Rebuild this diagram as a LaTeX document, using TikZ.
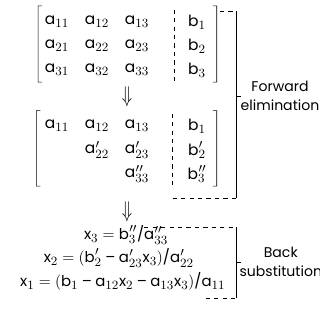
\documentclass[tikz,border=0pt]{standalone}
\usepackage{amsmath}
\usepackage{fontspec}
\setmainfont{Poppins}
\usepackage{mathastext}
\usetikzlibrary{arrows.meta, matrix, positioning, calc}

\begin{document}
\begin{tikzpicture}[
    font=\fontsize{11}{13}\selectfont,
    mat/.style={matrix of math nodes, column sep=0.1cm, row sep=0pt,
                nodes={minimum width=0.9cm, minimum height=0.6cm,
                       inner sep=0pt, anchor=center}},
    sep/.style={dashed, thin},
    brk/.style={thin, black},
    darr/.style={inner sep=0pt, font=\fontsize{12}{12}\selectfont},
    grp/.style={thin, black},
    lbl/.style={align=center, font=\fontsize{10}{14}\selectfont},
    eq/.style={anchor=center, inner sep=0pt, font=\fontsize{10.6}{12}\selectfont},
]

\useasboundingbox (0,0) rectangle (8,-8.05);

%% ─── matrices ────────────────────────────────────────────────
\matrix[mat] (m1) at (3.175,-1.15) {
    a_{11} & a_{12} & a_{13} &[0.5cm] b_1 \\
    a_{21} & a_{22} & a_{23} & b_2 \\
    a_{31} & a_{32} & a_{33} & b_3 \\
};
\draw[sep] ([xshift=-1mm]m1-1-4.north west) -- ([xshift=-1mm]m1-3-4.south west);
\draw[brk] ([xshift=2mm,yshift=-0.2mm]m1.north west) -- ++(-1mm,0)
    -- ([xshift=1mm,yshift=1.2mm]m1.south west) -- ++(1mm,0);
\draw[brk] ([xshift=-1.8mm,yshift=-0.2mm]m1.north east) -- ++(1mm,0)
    -- ([xshift=-0.8mm,yshift=1.2mm]m1.south east) -- ++(-1mm,0);

\matrix[mat] (m2) at (3.175,-3.75) {
    a_{11} & a_{12}  & a_{13}   &[0.5cm] b_1 \\
           & a'_{22} & a'_{23}  & b'_2 \\
           &         & a''_{33} & b''_3 \\
};
\draw[sep] ([xshift=-1.5mm]m2-1-4.north west) -- ([xshift=-1.5mm]m2-3-4.south west)
    coordinate (m2sep);
\draw[brk] ([xshift=1.6mm,yshift=-0.4mm]m2.north west) -- ++(-1mm,0)
    -- ([xshift=0.6mm,yshift=1.2mm]m2.south west) -- ++(1mm,0);
\draw[brk] ([xshift=-1.8mm,yshift=-0.4mm]m2.north east) -- ++(1mm,0)
    -- ([xshift=-0.8mm,yshift=1.2mm]m2.south east) -- ++(-1mm,0);

%% ─── back substitution ───────────────────────────────────────
\node[eq] (eq1) at (3.15,-5.87)  {$x_3 = b''_3/a''_{33}$};
\node[eq] (eq2) at (2.97,-6.45) {$x_2 = (b'_2 - a'_{23}x_3)/a'_{22}$};
\node[eq] (eq3) at (3.07,-7.03)  {$x_1 = (b_1 - a_{12}x_2 - a_{13}x_3)/a_{11}$};

%% ─── arrows ──────────────────────────────────────────────────
\node[darr] (dn1) at (3.175,-2.42) {\scalebox{1}[1.35]{$\Downarrow$}};
\node[darr] (dn2) at (3.175,-5.3)  {\scalebox{1}[1.35]{$\Downarrow$}};

%% ─── group brackets ──────────────────────────────────────────
\coordinate (fwT) at (5.9,-0.275);
\coordinate (fwB) at (5.9,-4.95);
\coordinate (bsT) at (5.9,-5.68);
\coordinate (bsB) at (5.9,-7.45);

\node[lbl] (fwd) at (7.0,-2.4) {Forward\\elimination};
\node[lbl] (bck) at (7.02,-6.55) {Back\\substitution};

% forward elimination
\draw[sep] (m1.north east |- fwT) -- (fwT);
\draw[grp] (fwT) -- (fwB);
\draw[sep] (m2sep |- fwB) -- (fwB);
\draw[grp] (fwT |- fwd) -- ++(0.13,0);

% back substitution
\draw[sep] (eq1.east |- bsT) ++(-0.6,0) -- (bsT);
\draw[grp] (bsT) -- (bsB);
\draw[sep] (eq3.east |- bsB) ++(-0.5,0) -- (bsB);
\draw[grp] (bsT |- bck) -- ++(0.13,0);

\end{tikzpicture}
\end{document}
